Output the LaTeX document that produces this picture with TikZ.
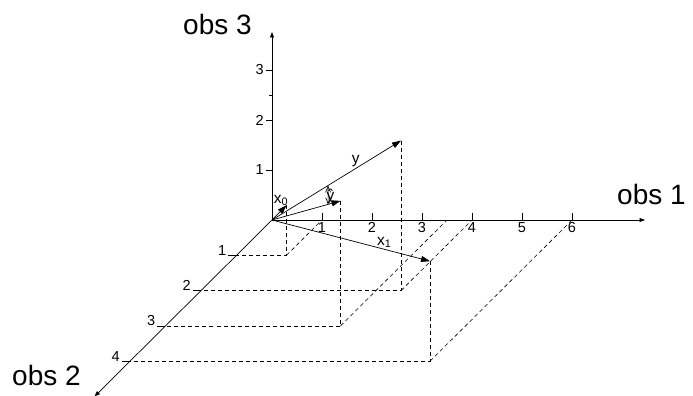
\documentclass[tikz,border=0pt]{standalone}
\usepackage{fontspec}
\setmainfont{Liberation Sans}
\usetikzlibrary{arrows.meta,calc}

\begin{document}
\begin{tikzpicture}[
    x={(50pt,0pt)}, y={(-35.5pt,-35.3pt)}, z={(0pt,50pt)},
    asse/.style={line width=0.7pt,-{Triangle[length=5.5pt,width=4pt]}},
    vettore/.style={line width=0.7pt,-{Triangle[length=9pt,width=6pt]}},
    proiezione/.style={line width=0.6pt,dash pattern=on 4pt off 3pt},
    tacca/.style={line width=0.6pt},
    numero/.style={font=\fontsize{14.5}{14.5}\selectfont,inner sep=2pt},
    etichetta/.style={font=\fontsize{15.5}{15.5}\selectfont,inner sep=1pt},
    nomeasse/.style={font=\fontsize{28}{28}\selectfont,inner sep=0pt,anchor=base west}]

  \useasboundingbox (-272pt,-176pt) rectangle (421pt,220pt);

  % ---- punti: osservazioni e vettori -----------------------------------------
  \coordinate (O)  at (0,0,0);
  \coordinate (x0) at (1,1,1);
  \coordinate (x1) at (6,4,2);
  \coordinate (y)  at (4,2,3);
  \coordinate (yh) at (3.5,3,2.5);

  % ---- assi ------------------------------------------------------------------
  \draw[asse] (O) -- (7.46,0,0);
  \draw[asse] (O) -- (0,5.0,0);
  \draw[asse] (O) -- (0,0,3.76);

  \foreach \i in {1,...,6}
    \draw[tacca] (\i,0,0) -- ++(0pt,7pt) node[numero,anchor=north] (n1-\i) at (\i,0,0) {\i};
  \foreach \j in {1,...,4}
    \draw[tacca] (0,\j,0) -- ++(-8pt,0pt) node[numero,anchor=base east] (n2-\j) {\j};
  \foreach \k in {1,2,3}
    \draw[tacca] (0,0,\k) -- ++(-6pt,0pt) node[numero,anchor=east] (n3-\k) {\k};
  \draw[tacca] (0,0,2.5) -- ++(-3pt,0pt);

  \node[nomeasse] (obs1) at (345pt,15pt)    {obs 1};
  \node[nomeasse] (obs2) at (-260pt,-165pt) {obs 2};
  \node[nomeasse] (obs3) at (-89pt,185pt)   {obs 3};

  % ---- proiezioni sul piano obs1--obs2 ---------------------------------------
  \foreach \p/\a/\b in {x0/1/1, y/4/2, yh/3.5/3, x1/6/4} {
    \draw[proiezione] (\p) -- (\a,\b,0) -- (0,\b,0);
    \draw[proiezione] (\a,\b,0) -- (\a,0,0);
  }

  % ---- vettori ---------------------------------------------------------------
  \draw[vettore] (O) -- (x0);
  \draw[vettore] (O) -- (yh);
  \draw[vettore] (O) -- (y)  node[etichetta,pos=0.65,above] (ylab) {y};
  \draw[vettore] (O) -- (x1) node[etichetta,pos=0.71,above] (x1lab) {x\textsubscript{1}};
  \node[etichetta] (x0lab) at ([xshift=-5.5pt,yshift=5pt]x0) {x\textsubscript{0}};
  \node[etichetta,anchor=base east] (yhlab) at ([xshift=-5pt]yh) {ŷ};

  % residuo tra y e la sua proiezione
  \coordinate (r1) at ($(O)!0.82!(yh)$);
  \coordinate (r2) at ($(O)!0.434!(y)$);
  \draw[line width=0.6pt,{Straight Barb[length=6pt,width=5pt]}-{Straight Barb[length=6pt,width=5pt]}] (r1) -- (r2);

\end{tikzpicture}
\end{document}
